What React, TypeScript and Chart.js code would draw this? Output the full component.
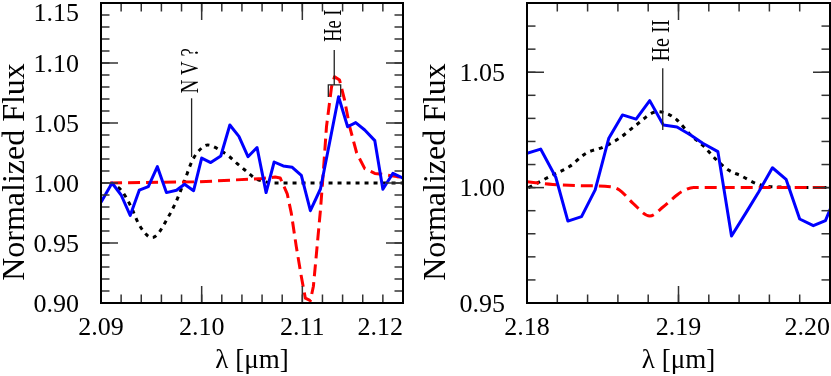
import React, { useEffect, useRef } from 'react';
import { Chart, registerables } from 'chart.js';

Chart.register(...registerables);

// ---------- Left panel data (2.09 - 2.12 micron) ----------
const leftObsWave = [2.0900, 2.0911, 2.0920, 2.0929, 2.0938, 2.0947, 2.0956, 2.0965, 2.0975, 2.0983, 2.0992, 2.1000, 2.1009, 2.1019, 2.1028, 2.1037, 2.1046, 2.1055, 2.1064, 2.1072, 2.1081, 2.1090, 2.1099, 2.1108, 2.1118, 2.1127, 2.1136, 2.1145, 2.1153, 2.1162, 2.1172, 2.1180, 2.1190, 2.1200];
const leftObsFlux = [0.984, 1.000, 0.990, 0.973, 0.994, 0.997, 1.0136, 0.992, 0.994, 0.999, 0.9936, 1.0208, 1.017, 1.0225, 1.0483, 1.0388, 1.0219, 1.0296, 0.992, 1.0175, 1.0142, 1.0131, 1.0063, 0.9769, 0.995, 1.0333, 1.0719, 1.0469, 1.0503, 1.0442, 1.0353, 0.9948, 1.0081, 1.004];

const leftDotWave = [2.0909, 2.0920, 2.0929, 2.0938, 2.0947, 2.0951, 2.0956, 2.0965, 2.0974, 2.0982, 2.0991, 2.1000, 2.1006, 2.1009, 2.1018, 2.1028, 2.1035, 2.1045, 2.1053, 2.1062, 2.1070, 2.1200];
const leftDotFlux = [1.000, 0.994, 0.9817, 0.965, 0.9555, 0.9545, 0.957, 0.969, 0.9833, 0.9997, 1.0192, 1.0292, 1.0317, 1.0313, 1.0275, 1.0217, 1.0164, 1.0094, 1.0039, 1.0013, 1.000, 1.000];

const leftDashWave = [2.0909, 2.0998, 2.1061, 2.1073, 2.1078, 2.1085, 2.1089, 2.1094, 2.1099, 2.1103, 2.1108, 2.1111, 2.1114, 2.1118, 2.1121, 2.1124, 2.1129, 2.1132, 2.1137, 2.1142, 2.1147, 2.1154, 2.1162, 2.1172, 2.1184, 2.1194, 2.1200];
const leftDashFlux = [1.000, 1.001, 1.0038, 1.005, 1.0042, 0.991, 0.975, 0.947, 0.922, 0.904, 0.902, 0.914, 0.941, 0.9775, 1.011, 1.047, 1.080, 1.0886, 1.0858, 1.069, 1.047, 1.025, 1.012, 1.008, 1.0067, 1.0053, 1.0047];

// ---------- Right panel data (2.18 - 2.20 micron) ----------
const rightObsWave = [2.1800, 2.1809, 2.1819, 2.1827, 2.1836, 2.1845, 2.1854, 2.1863, 2.1872, 2.1881, 2.1890, 2.1899, 2.1908, 2.1916, 2.1926, 2.1935, 2.1945, 2.1953, 2.1962, 2.1971, 2.1980, 2.1989, 2.1997, 2.2006];
const rightObsFlux = [1.0149, 1.0167, 1.0045, 0.9855, 0.9874, 0.999, 1.0214, 1.0315, 1.0297, 1.0377, 1.0271, 1.0263, 1.0228, 1.0192, 1.0156, 0.979, 0.9896, 0.9982, 1.0086, 1.0036, 0.9864, 0.9835, 0.9857, 1.000];

const rightDotWave = [2.1801, 2.1817, 2.1828, 2.1839, 2.1850, 2.1861, 2.1872, 2.1886, 2.1892, 2.1899, 2.1908, 2.1917, 2.1924, 2.1933, 2.1941, 2.1952, 2.1961, 2.2000];
const rightDotFlux = [1.000, 1.0055, 1.0091, 1.0149, 1.0175, 1.0214, 1.0271, 1.0329, 1.0322, 1.0293, 1.0228, 1.0177, 1.0127, 1.0076, 1.0052, 1.0016, 1.0004, 1.000];

const rightDashWave = [2.1800, 2.1817, 2.1839, 2.1855, 2.1861, 2.1870, 2.1881, 2.1890, 2.1899, 2.1902, 2.1910, 2.2000];
const rightDashFlux = [1.0025, 1.0014, 1.0008, 1.0004, 0.999, 0.9932, 0.9877, 0.9917, 0.9968, 0.9982, 1.0001, 1.000];

// ---------- Axes ----------
const leftXRange = [2.09, 2.12];
const leftYRange = [0.90, 1.15];
const rightXRange = [2.18, 2.20];
const rightYRange = [0.95, 1.08];
const leftXTicks = [2.09, 2.10, 2.11, 2.12];
const leftYTicks = [0.90, 0.95, 1.00, 1.05, 1.10, 1.15];
const rightXTicks = [2.18, 2.19, 2.20];
const rightYTicks = [0.95, 1.00, 1.05];
const xMinorStep = 0.002;
const yMinorStep = 0.01;
const xTitle = 'λ [μm]';
const yTitle = 'Normalized Flux';

// ---------- Line identifications ----------
const leftLineLabels = ['N V ?', 'He I'];
const leftLineWaves = [2.0990, 2.11317];
const leftLineTops = [1.0706, 1.1108];
const leftLineBottoms = [1.0217, 1.0817];
const leftLabelBases = [1.0748, 1.1178];
const leftLabelLengths = [45, 32];
const heIBracket = [2.11258, 2.11381];
const heIBracketFlux = [1.0817, 1.0717];

const rightLineLabels = ['He II'];
const rightLineWaves = [2.18896];
const rightLineTops = [1.0517];
const rightLineBottoms = [1.025];
const rightLabelBases = [1.0546];
const rightLabelLengths = [42];

const FONT = '"Liberation Serif", "Times New Roman", serif';

type Series = { wave: number[]; flux: number[]; color: string; dash: number[]; smooth: boolean };
type Ann = { text: string; wave: number; top: number; bottom: number; base: number; len: number; bracket?: number[]; bracketFlux?: number[] };

type PanelProps = {
  left: number;
  width: number;
  height: number;
  yAxisWidth: number;
  yTitleOffset: number;
  padTop: number;
  padRight: number;
  xAxisHeight: number;
  xRange: number[];
  yRange: number[];
  xTicks: number[];
  yTicks: number[];
  series: Series[];
  anns: Ann[];
};

function Panel(p: PanelProps) {
  const ref = useRef<HTMLCanvasElement>(null);
  useEffect(() => {
    const framePlugin = {
      id: 'frame',
      afterDatasetsDraw(chart: any) {
        const ctx = chart.ctx as CanvasRenderingContext2D;
        const a = chart.chartArea;
        const xs = chart.scales.x;
        const ys = chart.scales.y;
        ctx.save();
        const line = (x1: number, y1: number, x2: number, y2: number) => {
          ctx.beginPath();
          ctx.moveTo(x1, y1);
          ctx.lineTo(x2, y2);
          ctx.stroke();
        };
        // minor + major ticks, inward on all four sides
        ctx.strokeStyle = '#333';
        ctx.lineWidth = 1.5;
        const majorLen = 17;
        const minorLen = 8.5;
        const minorVals = (min: number, max: number, step: number) => {
          const out: number[] = [];
          for (let k = Math.ceil(min / step - 1e-6); k * step <= max + 1e-9; k++) out.push(k * step);
          return out;
        };
        minorVals(p.xRange[0], p.xRange[1], xMinorStep).forEach((v) => {
          const px = xs.getPixelForValue(v);
          line(px, a.bottom, px, a.bottom - minorLen);
          line(px, a.top, px, a.top + minorLen);
        });
        minorVals(p.yRange[0], p.yRange[1], yMinorStep).forEach((v) => {
          const py = ys.getPixelForValue(v);
          line(a.left, py, a.left + minorLen, py);
          line(a.right, py, a.right - minorLen, py);
        });
        p.xTicks.forEach((v) => {
          const px = xs.getPixelForValue(v);
          line(px, a.bottom, px, a.bottom - majorLen);
          line(px, a.top, px, a.top + majorLen);
        });
        p.yTicks.forEach((v) => {
          const py = ys.getPixelForValue(v);
          line(a.left, py, a.left + majorLen, py);
          line(a.right, py, a.right - majorLen, py);
        });
        // frame
        ctx.strokeStyle = '#000';
        ctx.lineWidth = 2;
        ctx.strokeRect(a.left, a.top, a.right - a.left, a.bottom - a.top);

        // tick labels
        const fs = 26;
        ctx.fillStyle = '#000';
        ctx.font = `${fs}px ${FONT}`;
        ctx.textBaseline = 'alphabetic';
        xs.ticks.forEach((t: any) => {
          const label = t.value.toFixed(2);
          const w = ctx.measureText(label).width;
          let cx = xs.getPixelForValue(t.value);
          if (cx + w / 2 > a.right) cx = a.right - w / 2;
          ctx.textAlign = 'center';
          ctx.fillText(label, cx, a.bottom + 32);
        });
        ys.ticks.forEach((t: any) => {
          const label = t.value.toFixed(2);
          const py = ys.getPixelForValue(t.value);
          const base = Math.max(py + 0.338 * fs, 0.676 * fs + 3);
          ctx.textAlign = 'right';
          ctx.fillText(label, a.left - 22, base);
        });

        // axis titles
        ctx.font = `27px ${FONT}`;
        ctx.textAlign = 'center';
        ctx.fillText(xTitle, (a.left + a.right) / 2, a.bottom + 65);
        ctx.save();
        ctx.font = `32px ${FONT}`;
        ctx.translate(a.left - p.yTitleOffset, 172);
        ctx.rotate(-Math.PI / 2);
        ctx.textAlign = 'center';
        ctx.textBaseline = 'alphabetic';
        ctx.fillText(yTitle, 0, 0);
        ctx.restore();

        // line identifications
        ctx.strokeStyle = '#222';
        ctx.lineWidth = 1.3;
        p.anns.forEach((an) => {
          const px = xs.getPixelForValue(an.wave);
          line(px, ys.getPixelForValue(an.top), px, ys.getPixelForValue(an.bottom));
          if (an.bracket && an.bracketFlux) {
            const bx1 = xs.getPixelForValue(an.bracket[0]);
            const bx2 = xs.getPixelForValue(an.bracket[1]);
            const by = ys.getPixelForValue(an.bracketFlux[0]);
            const byl = ys.getPixelForValue(an.bracketFlux[1]);
            ctx.beginPath();
            ctx.moveTo(bx1, byl);
            ctx.lineTo(bx1, by);
            ctx.lineTo(bx2, by);
            ctx.lineTo(bx2, byl);
            ctx.stroke();
          }
          ctx.save();
          ctx.translate(px, ys.getPixelForValue(an.base));
          ctx.rotate(-Math.PI / 2);
          ctx.font = `25px ${FONT}`;
          ctx.textAlign = 'left';
          ctx.textBaseline = 'middle';
          ctx.fillStyle = '#000';
          ctx.fillText(an.text, 0, 0, an.len);
          ctx.restore();
        });
        ctx.restore();
      },
    };

    const chart = new Chart(ref.current as HTMLCanvasElement, {
      type: 'line',
      data: {
        datasets: p.series.map((s) => ({
          data: s.wave.map((w, i) => ({ x: w, y: s.flux[i] })),
          borderColor: s.color,
          backgroundColor: s.color,
          borderWidth: 3,
          borderDash: s.dash,
          borderCapStyle: 'butt',
          borderJoinStyle: 'round',
          pointRadius: 0,
          fill: false,
          tension: 0,
          cubicInterpolationMode: s.smooth ? 'monotone' : 'default',
        })),
      } as any,
      options: {
        responsive: false,
        animation: false,
        devicePixelRatio: 1,
        events: [],
        layout: { padding: { left: 0, top: p.padTop, right: p.padRight, bottom: 0 } },
        plugins: { legend: { display: false }, tooltip: { enabled: false } },
        scales: {
          x: {
            type: 'linear',
            min: p.xRange[0],
            max: p.xRange[1],
            grid: { display: false },
            border: { display: false },
            ticks: { display: false },
            afterBuildTicks: (s: any) => {
              s.ticks = p.xTicks.map((v) => ({ value: v }));
            },
            afterFit: (s: any) => {
              s.height = p.xAxisHeight;
            },
          },
          y: {
            type: 'linear',
            min: p.yRange[0],
            max: p.yRange[1],
            grid: { display: false },
            border: { display: false },
            ticks: { display: false },
            afterBuildTicks: (s: any) => {
              s.ticks = p.yTicks.map((v) => ({ value: v }));
            },
            afterFit: (s: any) => {
              s.width = p.yAxisWidth;
            },
          },
        },
      } as any,
      plugins: [framePlugin],
    });
    return () => chart.destroy();
  }, []);
  return (
    <canvas
      ref={ref}
      width={p.width}
      height={p.height}
      style={{ position: 'absolute', left: p.left, top: 0, width: p.width, height: p.height }}
    />
  );
}

export default function App() {
  const H = 376;
  const leftSeries: Series[] = [
    { wave: leftObsWave, flux: leftObsFlux, color: '#0000ff', dash: [], smooth: false },
    { wave: leftDashWave, flux: leftDashFlux, color: '#ff0000', dash: [12, 6], smooth: false },
    { wave: leftDotWave, flux: leftDotFlux, color: '#000000', dash: [4, 5], smooth: true },
  ];
  const rightSeries: Series[] = [
    { wave: rightObsWave, flux: rightObsFlux, color: '#0000ff', dash: [], smooth: false },
    { wave: rightDashWave, flux: rightDashFlux, color: '#ff0000', dash: [12, 6], smooth: true },
    { wave: rightDotWave, flux: rightDotFlux, color: '#000000', dash: [4, 5], smooth: true },
  ];
  const leftAnns: Ann[] = leftLineLabels.map((t, i) => ({
    text: t,
    wave: leftLineWaves[i],
    top: leftLineTops[i],
    bottom: leftLineBottoms[i],
    base: leftLabelBases[i],
    len: leftLabelLengths[i],
    bracket: t === 'He I' ? heIBracket : undefined,
    bracketFlux: t === 'He I' ? heIBracketFlux : undefined,
  }));
  const rightAnns: Ann[] = rightLineLabels.map((t, i) => ({
    text: t,
    wave: rightLineWaves[i],
    top: rightLineTops[i],
    bottom: rightLineBottoms[i],
    base: rightLabelBases[i],
    len: rightLabelLengths[i],
  }));
  return (
    <div style={{ position: 'fixed', left: 0, top: 0, width: 831, height: H, background: '#fff', overflow: 'hidden' }}>
      <Panel
        left={0}
        width={415}
        height={H}
        yAxisWidth={101}
        yTitleOffset={77}
        padTop={3}
        padRight={12}
        xAxisHeight={73}
        xRange={leftXRange}
        yRange={leftYRange}
        xTicks={leftXTicks}
        yTicks={leftYTicks}
        series={leftSeries}
        anns={leftAnns}
      />
      <Panel
        left={415}
        width={416}
        height={H}
        yAxisWidth={112}
        yTitleOffset={82}
        padTop={3}
        padRight={1}
        xAxisHeight={73}
        xRange={rightXRange}
        yRange={rightYRange}
        xTicks={rightXTicks}
        yTicks={rightYTicks}
        series={rightSeries}
        anns={rightAnns}
      />
    </div>
  );
}
